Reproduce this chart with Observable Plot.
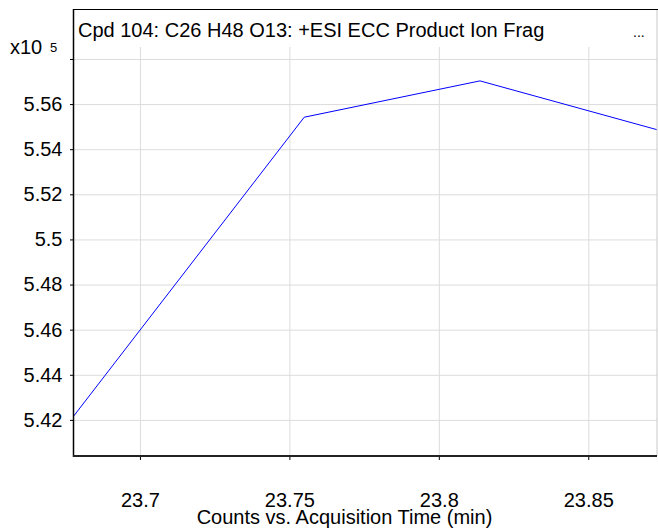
<!DOCTYPE html>
<html>
<head>
<meta charset="utf-8">
<script src="https://cdn.jsdelivr.net/npm/d3@7"></script>
<script src="https://cdn.jsdelivr.net/npm/@observablehq/plot@0.6"></script>
<style>
  html, body { margin: 0; padding: 0; background: #fff; }
  #chart { width: 658px; height: 532px; }
</style>
</head>
<body>
<div id="chart"></div>
<script>
// Data (counts in units of x10^5)
const times = [23.6776, 23.7548, 23.8136, 23.873];
const counts = [5.4218, 5.5544, 5.5705, 5.5488];
const xTicks = [23.7, 23.75, 23.8, 23.85];
const yTicks = [5.42, 5.44, 5.46, 5.48, 5.5, 5.52, 5.54, 5.56, 5.58];
const yLabeled = [5.42, 5.44, 5.46, 5.48, 5.5, 5.52, 5.54, 5.56];
const titleText = "Cpd 104: C26 H48 O13: +ESI ECC Product Ion Frag";
const xLabel = "Counts vs. Acquisition Time (min)";
const scaleText = "x10";
const scaleExp = "5";

const data = times.map((t, i) => ({t, c: counts[i]}));

const W = 658, H = 532;
const mL = 73, mR = 1, mT = 47, mB = 76;
const font = "'Liberation Sans', Arial, sans-serif";

const plot = Plot.plot({
  width: W,
  height: H,
  marginLeft: mL,
  marginRight: mR,
  marginTop: mT,
  marginBottom: mB,
  style: {fontFamily: font, fontSize: "20px", color: "#000", background: "#fff"},
  x: {domain: [23.6776, 23.873]},
  y: {domain: [5.404, 5.5853]},
  marks: [
    Plot.gridX(xTicks, {stroke: "#dcdcdc", strokeOpacity: 1}),
    Plot.gridY(yTicks, {stroke: "#dcdcdc", strokeOpacity: 1}),
    Plot.axisX(xTicks, {tickSize: 4, tickPadding: 32, tickFormat: d => String(d), label: null, fontSize: 20}),
    Plot.axisY(yTicks, {tickSize: 3, tickPadding: 8, tickFormat: d => yLabeled.includes(d) ? String(d) : "", label: null, fontSize: 20}),
    Plot.line(data, {x: "t", y: "c", stroke: "#0000ff", strokeWidth: 1, clip: true})
  ]
});

document.getElementById("chart").appendChild(plot);

const svg = d3.select(plot);
const g = svg.append("g").attr("text-anchor", "start");
// frame lines
g.append("line").attr("x1", 657).attr("x2", 657).attr("y1", 9).attr("y2", 456).attr("stroke", "#c8c8c8").attr("stroke-width", 1);
g.append("line").attr("x1", 73.5).attr("x2", 73.5).attr("y1", 9).attr("y2", 457).attr("stroke", "#000").attr("stroke-width", 1.5);
g.append("line").attr("x1", 73).attr("x2", 658).attr("y1", 9.5).attr("y2", 9.5).attr("stroke", "#000").attr("stroke-width", 1.2);
g.append("line").attr("x1", 73).attr("x2", 657).attr("y1", 456).attr("y2", 456).attr("stroke", "#222").attr("stroke-width", 1.8);
// title
g.append("text").attr("x", 78).attr("y", 37).attr("text-anchor", "start").attr("font-family", font).attr("font-size", 20).attr("fill", "#000").text(titleText);
g.append("text").attr("x", 633).attr("y", 37).attr("text-anchor", "start").attr("font-family", font).attr("font-size", 14).attr("fill", "#000").text("...");
// scale label
g.append("text").attr("x", 10).attr("y", 54).attr("text-anchor", "start").attr("font-family", font).attr("font-size", 20).attr("fill", "#000").text(scaleText);
g.append("text").attr("x", 50).attr("y", 52).attr("text-anchor", "start").attr("font-family", font).attr("font-size", 13).attr("fill", "#000").text(scaleExp);
// x axis title
g.append("text").attr("x", 344.5).attr("y", 524).attr("text-anchor", "middle").attr("font-family", font).attr("font-size", 20).attr("fill", "#000").text(xLabel);
</script>
</body>
</html>
